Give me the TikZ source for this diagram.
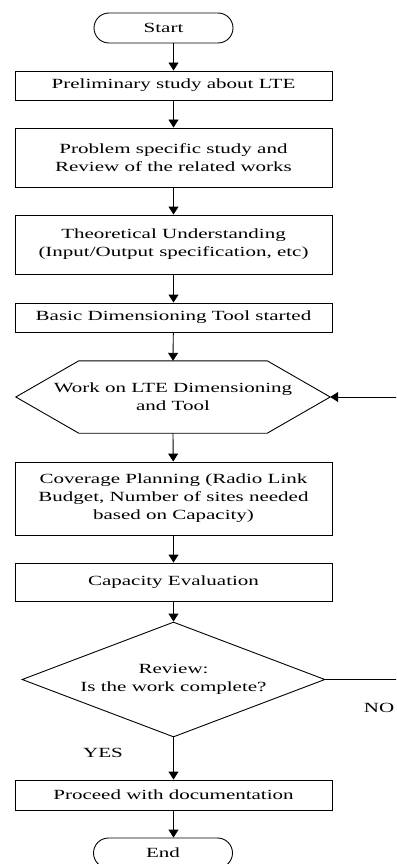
\documentclass[tikz,border=0pt]{standalone}
\usepackage{fontspec}
\setmainfont{Liberation Serif}[FakeStretch=1.5]
\usepackage{tikz}
\usetikzlibrary{arrows.meta,shapes.geometric}

\begin{document}
\begin{tikzpicture}[x=1pt,y=-1pt,
  txt/.style={font=\fontsize{14}{18}\selectfont,align=center,inner sep=0pt},
  box/.style={txt,draw,line width=0.9pt,minimum width=317pt},
  term/.style={txt,draw,line width=0.9pt,rounded corners=15pt,minimum width=139pt,minimum height=30pt},
  arr/.style={line width=0.9pt,-{Triangle[length=8pt,width=10pt]}}]
\useasboundingbox (0,0) rectangle (396,864);
\clip (0,0) rectangle (396,864);

\node[term] (start) at (163.5,28) {Start};
\node[box,minimum height=29pt] (prelim) at (173.5,85.5) {Preliminary study about LTE};
\node[box,minimum height=59pt] (problem) at (173.5,157.5) {Problem specific study and\\Review of the related works};
\node[box,minimum height=59pt] (theory) at (173.5,244.5) {Theoretical Understanding\\(Input/Output specification, etc)};
\node[box,minimum height=29pt] (basic) at (173.5,317.5) {Basic Dimensioning Tool started};
\node[txt,minimum width=314pt,minimum height=72pt] (work) at (173,397) {Work on LTE Dimensioning\\and Tool};
\draw[line width=0.9pt] (work.west) -- ([xshift=63pt]work.north west) -- ([xshift=-63pt]work.north east)
  -- (work.east) -- ([xshift=-63pt]work.south east) -- ([xshift=63pt]work.south west) -- cycle;
\node[box,minimum height=73pt] (coverage) at (173.5,498.5) {Coverage Planning (Radio Link\\Budget, Number of sites needed\\based on Capacity)};
\node[box,minimum height=38pt] (capacity) at (173.5,582) {Capacity Evaluation};
\node[txt,draw,diamond,line width=0.9pt,aspect=2.6,minimum width=303pt,minimum height=115pt] (review) at (173.5,679.5) {Review:\\Is the work complete?};
\node[box,minimum height=30pt] (doc) at (173.5,795) {Proceed with documentation};
\node[term] (end) at (163,853) {End};

\node[txt] (yes) at (103,753) {YES};
\node[txt] (no) at (379,708) {NO};
\coordinate (loop) at (404,0);

\draw[arr] (start.south -| prelim) -- (prelim.north);
\draw[arr] (prelim) -- (problem);
\draw[arr] (problem) -- (theory);
\draw[arr] (theory) -- (basic);
\draw[arr] (basic) -- (work.north);
\draw[arr] (work.south) -- (coverage);
\draw[arr] (coverage) -- (capacity);
\draw[arr] (capacity) -- (review);
\draw[arr] (review) -- (doc);
\draw[arr] (doc.south) -- (doc.south |- end.north);
\draw[arr] (review.east) -- (review.east -| loop) |- (work.east);
\end{tikzpicture}
\end{document}
